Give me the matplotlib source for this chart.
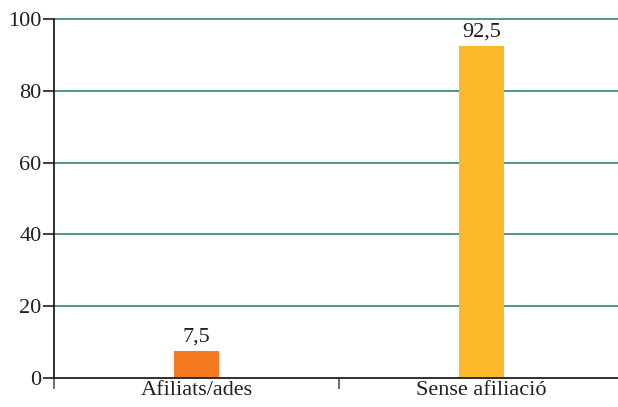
import matplotlib
matplotlib.use("Agg")
import matplotlib.pyplot as plt
from matplotlib.ticker import FixedLocator

categories = ["Afiliats/ades", "Sense afiliació"]
values = [7.5, 92.5]
bar_colors = ["#F47B20", "#FBB829"]
y_ticks = [0, 20, 40, 60, 80, 100]

ink = "#231F20"
grid_color = "#1F7A6A"

plt.rcParams["font.family"] = ["Liberation Serif", "DejaVu Serif"]

fig = plt.figure(figsize=(6.18, 4.07), dpi=100)
ax = fig.add_axes([54 / 618, 29 / 407, 570 / 618, 359 / 407])

positions = [i + 0.5 for i in range(len(categories))]
ax.bar(positions, values, width=0.155, color=bar_colors, zorder=3)

for x, v in zip(positions, values):
    ax.annotate(f"{v:.1f}".replace(".", ","), (x, v), xytext=(0, 3),
                textcoords="offset points", ha="center", va="bottom",
                fontsize=16, color=ink)

ax.set_xlim(0, len(categories))
ax.set_ylim(0, 100)

ax.set_yticks(y_ticks)
ax.set_yticklabels([str(t) for t in y_ticks])
for t in y_ticks[1:]:
    ax.axhline(t, color=grid_color, lw=1.1, zorder=1, clip_on=False)

ax.xaxis.set_major_locator(FixedLocator(list(range(len(categories) + 1))))
ax.xaxis.set_minor_locator(FixedLocator(positions))
ax.set_xticklabels([], minor=False)
ax.set_xticklabels(categories, minor=True)
ax.tick_params(axis="x", which="major", direction="out", length=8,
               width=1.2, color="#555555")
ax.tick_params(axis="x", which="minor", length=0, pad=2,
               labelsize=16, labelcolor=ink)
ax.tick_params(axis="y", direction="out", length=8, width=1.2,
               color=ink, labelsize=16, labelcolor=ink, pad=1)

for side in ["top", "right"]:
    ax.spines[side].set_visible(False)
for side in ["left", "bottom"]:
    ax.spines[side].set_color(ink)
    ax.spines[side].set_linewidth(1.3)
    ax.spines[side].set_zorder(4)

fig.savefig("out.png", dpi=100)
